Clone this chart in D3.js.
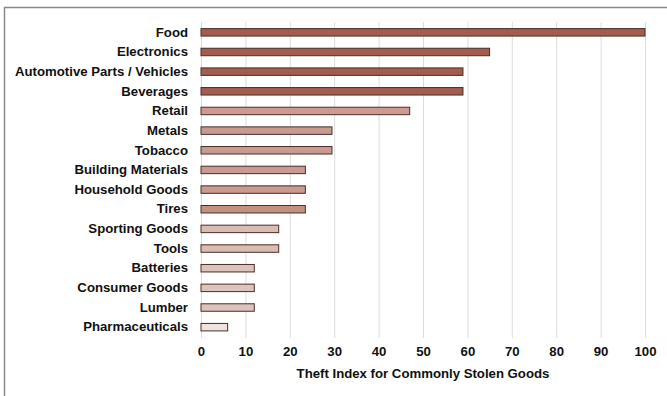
<!DOCTYPE html>
<html><head><meta charset="utf-8">
<script src="https://cdn.jsdelivr.net/npm/d3@7"></script>
<style>body{margin:0;background:#fff}svg{display:block}text{font-family:"Liberation Sans",Arial,sans-serif;font-weight:bold;fill:#111}</style>
</head><body><svg id="c" width="667" height="396"></svg>
<script>
const categories = ["Food","Electronics","Automotive Parts / Vehicles","Beverages","Retail","Metals","Tobacco","Building Materials","Household Goods","Tires","Sporting Goods","Tools","Batteries","Consumer Goods","Lumber","Pharmaceuticals"];
const values = [100,65,59,59,47,29.5,29.5,23.5,23.5,23.5,17.5,17.5,12,12,12,6];
const colors = ["#a35d4e","#a35d4e","#a35d4e","#a35d4e","#cc9a8e","#c99a8f","#c99a8f","#c99a8f","#c99a8f","#c4907f","#dbbcb2","#dbbcb2","#dcc4bc","#dcc4bc","#dcc4bc","#eee3df"];
const ticks = [0,10,20,30,40,50,60,70,80,90,100];
const axisTitle = "Theft Index for Commonly Stolen Goods";

const svg = d3.select("#c");
// outer frame
svg.append("path").attr("d","M4.5,400 V7.5 H680").attr("fill","none").attr("stroke","#8a8a8a").attr("stroke-width",1.5);

const x = d3.scaleLinear().domain([0,100]).range([201,645]);
const y = d3.scaleBand().domain(categories).range([22.5,337]).paddingInner(0.62).paddingOuter(0.31);

svg.append("g").selectAll("line").data(ticks).join("line")
  .attr("x1",d=>x(d)+0.5).attr("x2",d=>x(d)+0.5).attr("y1",22).attr("y2",338)
  .attr("stroke","#dcdcdc").attr("stroke-width",1);

svg.append("g").selectAll("rect").data(categories).join("rect")
  .attr("x",x(0)).attr("y",d=>y(d)).attr("width",(d,i)=>x(values[i])-x(0)).attr("height",y.bandwidth())
  .attr("fill",(d,i)=>colors[i]).attr("stroke","#4a2e28").attr("stroke-width",1);

const fs = "13.2px";
const yAxis = d3.axisLeft(y).tickSize(0).tickPadding(0);
const gy = svg.append("g").attr("transform","translate(188,0)").call(yAxis);
gy.select(".domain").remove();
gy.selectAll("text").style("font-size",fs).attr("fill","#111");

const xAxis = d3.axisBottom(x).tickValues(ticks).tickSize(0).tickPadding(0);
const gx = svg.append("g").attr("transform","translate(0,347)").call(xAxis);
gx.select(".domain").remove();
gx.selectAll("text").style("font-size",fs).attr("fill","#111");

svg.append("text").attr("x",423).attr("y",378).attr("text-anchor","middle").style("font-size",fs).text(axisTitle);
</script></body></html>
